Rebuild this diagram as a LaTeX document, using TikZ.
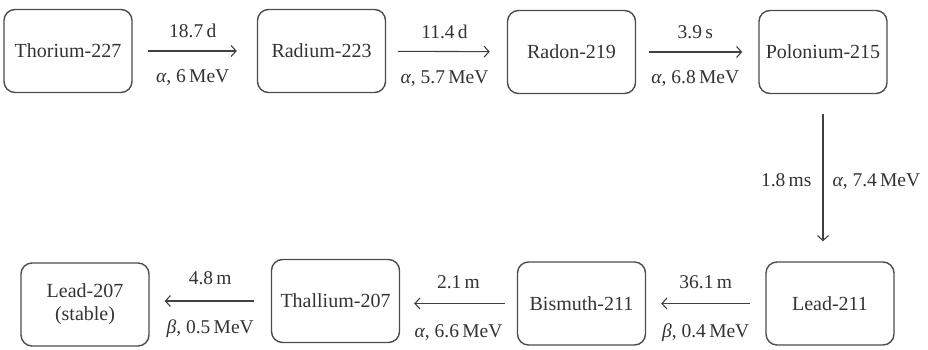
\documentclass[tikz,border=0pt]{standalone}
\usepackage{fontspec}
\setmainfont{Liberation Serif}
\usetikzlibrary{arrows.meta}
\begin{document}
\begin{tikzpicture}[x=1pt,y=-1pt,
  iso/.style={draw=black!70, line width=1.4pt, rounded corners=11pt, minimum width=128pt, minimum height=83pt, align=center, inner sep=0pt, text=black!80, font=\fontsize{20}{23}\selectfont},
  decay/.style={draw=black!75, line width=1.1pt, -{Straight Barb[length=5pt,width=11pt]}},
  lab/.style={anchor=base, text=black!80, font=\fontsize{19.5}{22}\selectfont, inner sep=0pt},
  labE/.style={anchor=base east, text=black!80, font=\fontsize{19.5}{22}\selectfont, inner sep=0pt},
  labW/.style={anchor=base west, text=black!80, font=\fontsize{19.5}{22}\selectfont, inner sep=0pt}]
\useasboundingbox (0,0) rectangle (928,350);
\node[iso] (th) at (68,51) {Thorium-227};
\node[iso] (ra) at (321.5,51) {Radium-223};
\node[iso] (rn) at (571.5,52) {Radon-219};
\node[iso] (po) at (823,52) {Polonium-215};
\node[iso] (pb1) at (830,303.5) {Lead-211};
\node[iso] (bi) at (581.5,303.5) {Bismuth-211};
\node[iso] (tl) at (335.5,301) {Thallium-207};
\node[iso] (pb2) at (85,304.5) {Lead-207\\(stable)};

\draw[decay, shorten <=15pt, shorten >=20pt] (th) -- (ra)
  node[lab, midway, xshift=-2pt, yshift=13pt] {18.7\,d}
  node[lab, midway, xshift=-2pt, yshift=-32pt] {{\itshape α}, 6\,MeV};
\draw[decay, shorten <=12pt, shorten >=17pt] (ra) -- (rn)
  node[lab, midway, xshift=-2pt, yshift=13pt] {11.4\,d}
  node[lab, midway, xshift=-2pt, yshift=-32pt] {{\itshape α}, 5.7\,MeV};
\draw[decay, shorten <=13pt, shorten >=16pt] (rn) -- (po)
  node[lab, midway, xshift=-2pt, yshift=13pt] {3.9\,s}
  node[lab, midway, xshift=-2pt, yshift=-32pt] {{\itshape α}, 6.8\,MeV};
\draw[decay, shorten <=20pt, shorten >=20pt] (po.south) -- (po.south |- pb1.north)
  node[labE, midway, xshift=-11pt, yshift=-9pt] {1.8\,ms}
  node[labW, midway, xshift=9pt, yshift=-9pt] {{\itshape α}, 7.4\,MeV};
\draw[decay, shorten <=15pt, shorten >=15pt] (pb1.west) -- (pb1.west -| bi.east)
  node[lab, midway, yshift=15pt] {36.1\,m}
  node[lab, midway, yshift=-34pt] {{\itshape β}, 0.4\,MeV};
\draw[decay, shorten <=12pt, shorten >=14pt] (bi.west) -- (bi.west -| tl.east)
  node[lab, midway, yshift=15pt] {2.1\,m}
  node[lab, midway, yshift=-34pt] {{\itshape α}, 6.6\,MeV};
\draw[decay, shorten <=17pt, shorten >=15pt] (tl.west) -- (tl.west -| pb2.east)
  node[lab, midway, yshift=17pt] {4.8\,m}
  node[lab, midway, yshift=-32pt] {{\itshape β}, 0.5\,MeV};
\end{tikzpicture}
\end{document}
